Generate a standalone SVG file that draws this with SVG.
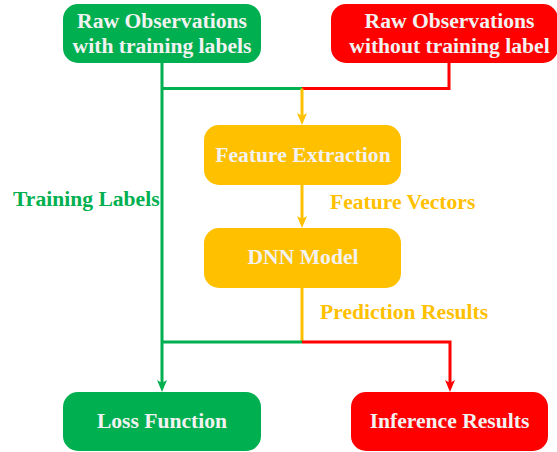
<svg xmlns="http://www.w3.org/2000/svg" width="557" height="452" viewBox="0 0 557 452">
<style>
.t{font-family:"Liberation Serif","Times New Roman",serif;font-weight:bold;font-size:21.6px}
.w{fill:#F2F2F2;text-anchor:middle}
.g{fill:#00B050}.r{fill:#FF0000}.y{fill:#FFC000}
.ln{fill:none;stroke-width:3}
.sg{stroke:#00B050}.sr{stroke:#FF0000}.sy{stroke:#FFC000}
</style>
<defs>
<marker id="ag" markerUnits="userSpaceOnUse" viewBox="0 0 12 10" refX="4" refY="5" markerWidth="12" markerHeight="10" orient="auto"><path d="M0,0 L12,5 L0,10 L3,5 z" fill="#00B050"/></marker>
<marker id="ar" markerUnits="userSpaceOnUse" viewBox="0 0 12 10" refX="4" refY="5" markerWidth="12" markerHeight="10" orient="auto"><path d="M0,0 L12,5 L0,10 L3,5 z" fill="#FF0000"/></marker>
<marker id="ay" markerUnits="userSpaceOnUse" viewBox="0 0 12 10" refX="4" refY="5" markerWidth="12" markerHeight="10" orient="auto"><path d="M0,0 L12,5 L0,10 L3,5 z" fill="#FFC000"/></marker>
</defs>
<g id="connectors">
<path class="ln sg" d="M162,63 V384" marker-end="url(#ag)"/>
<path class="ln sg" d="M162,88.5 H302"/>
<path class="ln sr" d="M449,63 V88.5 H302"/>
<path class="ln sy" d="M302,88.5 V117" marker-end="url(#ay)"/>
<path class="ln sy" d="M302,185 V220" marker-end="url(#ay)"/>
<path class="ln sy" d="M302,288 V342"/>
<path class="ln sg" d="M302,342 H162"/>
<path class="ln sr" d="M302,342 H450 V384" marker-end="url(#ar)"/>
<text class="t g" x="13" y="206">Training Labels</text>
<text class="t y" x="330" y="209">Feature Vectors</text>
<text class="t y" x="320" y="319">Prediction Results</text>
</g>
<g id="raw-labeled">
<rect class="g" x="63" y="4" width="198" height="59" rx="15"/>
<text class="t w" x="162" y="28">Raw Observations</text>
<text class="t w" x="162" y="53">with training labels</text>
</g>
<g id="raw-unlabeled">
<rect class="r" x="331" y="4" width="227" height="59" rx="15"/>
<text class="t w" x="449.5" y="28">Raw Observations</text>
<text class="t w" x="449.5" y="53">without training label</text>
</g>
<g id="feature-extraction">
<rect class="y" x="204" y="125" width="197" height="60" rx="15"/>
<text class="t w" x="303" y="162">Feature Extraction</text>
</g>
<g id="dnn-model">
<rect class="y" x="204" y="228" width="197" height="60" rx="15"/>
<text class="t w" x="303" y="264">DNN Model</text>
</g>
<g id="loss-function">
<rect class="g" x="63" y="392" width="198" height="59" rx="15"/>
<text class="t w" x="162" y="428">Loss Function</text>
</g>
<g id="inference-results">
<rect class="r" x="351" y="392" width="197" height="59" rx="15"/>
<text class="t w" x="449.5" y="428">Inference Results</text>
</g>
</svg>
